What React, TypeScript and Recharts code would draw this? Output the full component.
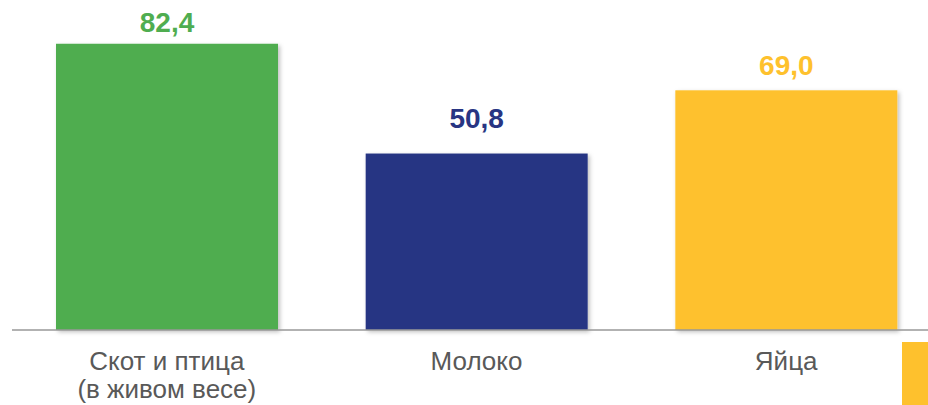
import { BarChart, Bar, XAxis, YAxis, Cell, LabelList } from "recharts";

const CATEGORIES = ["Скот и птица\n(в живом весе)", "Молоко", "Яйца"];
const VALUES = [82.4, 50.8, 69.0];
const COLORS = ["#4FAD50", "#283583", "#FEC12D"];
// gap between the value label baseline and the bar top, as placed in the original
const LABEL_GAP = [12, 26, 15];

const FONT = "'Liberation Sans', Arial, sans-serif";

const rows = CATEGORIES.map((name, i) => ({ name, value: VALUES[i] }));

const fmt = (v: number) => v.toFixed(1).replace(".", ",");

function CategoryTick(props: any) {
  const { x, payload } = props;
  const lines = String(payload.value).split("\n");
  return (
    <text
      x={x}
      y={370}
      textAnchor="middle"
      fill="#595959"
      fontFamily={FONT}
      fontSize={26}
    >
      {lines.map((l, i) => (
        <tspan key={i} x={x} dy={i === 0 ? 0 : 28}>
          {l}
        </tspan>
      ))}
    </text>
  );
}

function ShadowBar(props: any) {
  const { x, y, width, height, fill } = props;
  return (
    <rect
      x={x}
      y={y}
      width={width}
      height={height}
      fill={fill}
      filter="url(#barShadow)"
    />
  );
}

function ValueLabel(props: any) {
  const { x, y, width, value, index } = props;
  return (
    <text
      x={x + width / 2}
      y={y - LABEL_GAP[index]}
      textAnchor="middle"
      fill={COLORS[index]}
      fontFamily={FONT}
      fontWeight={700}
      fontSize={28}
    >
      {fmt(value)}
    </text>
  );
}

export default function App() {
  return (
    <div
      style={{
        position: "absolute",
        left: 0,
        top: 0,
        width: 928,
        height: 405,
        overflow: "hidden",
        background: "#fff",
      }}
    >
      <BarChart
        width={941}
        height={405}
        data={rows}
        margin={{ top: 0, right: 0, left: 12, bottom: 0 }}
      >
        <defs>
          <filter id="barShadow" x="-10%" y="-10%" width="130%" height="130%">
            <feDropShadow
              dx={2}
              dy={2}
              stdDeviation={2}
              floodColor="#000"
              floodOpacity={0.25}
            />
          </filter>
        </defs>
        <YAxis hide domain={[0, 95]} />
        <XAxis
          dataKey="name"
          height={75}
          interval={0}
          tickLine={false}
          axisLine={{ stroke: "#999999", strokeWidth: 1.5 }}
          tick={<CategoryTick />}
        />
        <Bar
          dataKey="value"
          barSize={222}
          isAnimationActive={false}
          shape={<ShadowBar />}
        >
          {rows.map((r, i) => (
            <Cell key={r.name} fill={COLORS[i]} />
          ))}
          <LabelList dataKey="value" content={<ValueLabel />} />
        </Bar>
      </BarChart>
      {/* cut-off legend swatch at the right edge */}
      <div
        style={{
          position: "absolute",
          left: 902,
          top: 342,
          width: 26,
          height: 63,
          background: COLORS[2],
        }}
      />
    </div>
  );
}
